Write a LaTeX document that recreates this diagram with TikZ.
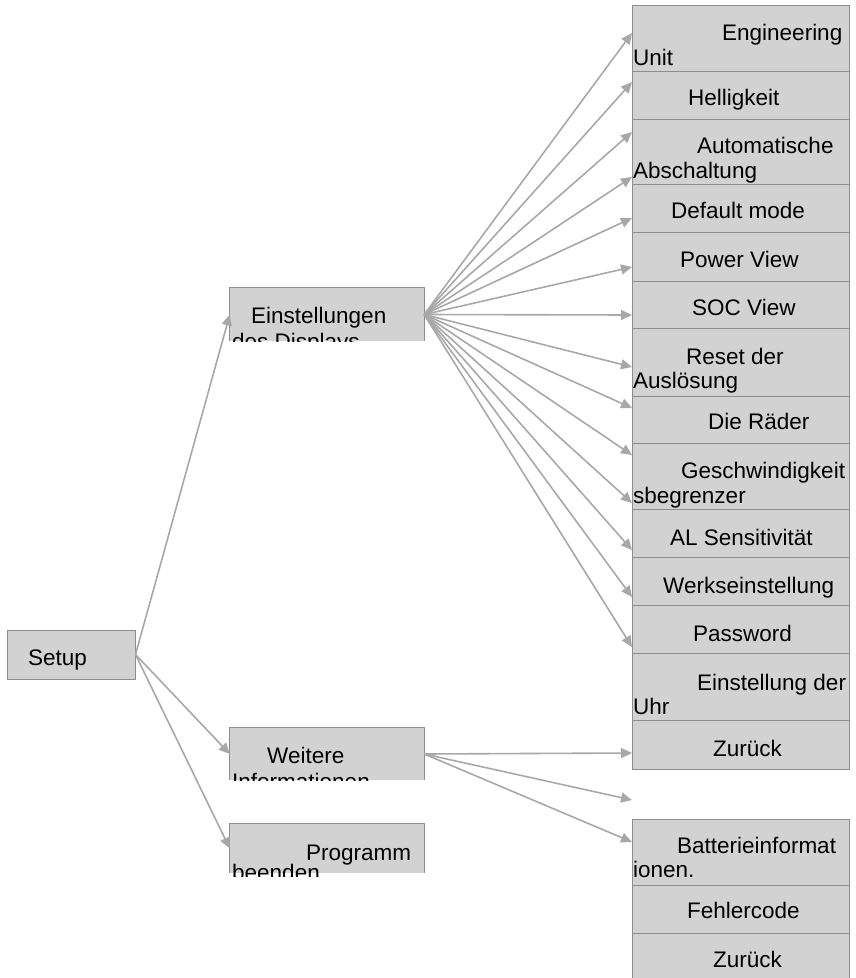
\documentclass[tikz,border=0pt]{standalone}
\usepackage{fontspec}
\setmainfont{Liberation Sans}
\usetikzlibrary{arrows.meta}
\definecolor{boxfill}{HTML}{D2D2D2}
\definecolor{boxline}{HTML}{8E8E8E}
\definecolor{arrowc}{HTML}{A8A8A8}
\begin{document}
\begin{tikzpicture}[x=1pt,y=-1pt,
  txt/.style={anchor=base west, inner sep=0pt, font=\fontsize{22.5}{26}\selectfont},
  cell/.style={draw=boxline, fill=boxfill, line width=1pt, inner sep=0pt, minimum width=217pt},
  leftbox/.style={fill=boxfill, draw=none, inner sep=0pt, minimum width=194pt},
  conn/.style={draw=arrowc, line width=1.6pt, -{Triangle[length=11pt,width=10pt]}}]
\useasboundingbox (0,0) rectangle (855,978);

% ---------- left column ----------
\node[cell, minimum width=128pt, minimum height=49pt] (setup) at (71,654.5) {};
\node[txt] (tsetup) at (28,665) {Setup};

\node[leftbox, minimum height=53pt] (ein) at (327,314.5) {};
\draw[boxline, line width=1pt] (ein.south west) -- (ein.north west) -- (ein.north east) -- (ein.south east);
\begin{scope}
  \clip (ein.south west) rectangle (ein.north east);
  \node[txt] (tein1) at (251,323) {Einstellungen};
  \node[txt] (tein2) at (232,349) {des Displays};
\end{scope}

\node[leftbox, minimum height=52pt] (wei) at (327,754) {};
\draw[boxline, line width=1pt] (wei.south west) -- (wei.north west) -- (wei.north east) -- (wei.south east);
\begin{scope}
  \clip (wei.south west) rectangle (wei.north east);
  \node[txt] (twei1) at (267,763) {Weitere};
  \node[txt] (twei2) at (232,789) {Informationen};
\end{scope}

\node[leftbox, minimum height=49pt] (prog) at (327,848.5) {};
\draw[boxline, line width=1pt] (prog.south west) -- (prog.north west) -- (prog.north east) -- (prog.south east);
\begin{scope}
  \clip (230,824) rectangle (424,876);
  \node[txt] (tprog1) at (306,860) {Programm};
  \node[txt] (tprog2) at (232,880) {beenden};
\end{scope}

% ---------- right column ----------
\node[cell, minimum height=66pt] (r1) at (740.5,38) {};
\node[txt] at (722,40) (t1a) {Engineering};
\node[txt] at (633,65) (t1b) {Unit};
\node[cell, minimum height=48pt] (r2) at (740.5,95) {};
\node[txt] at (688,105) (t2) {Helligkeit};
\node[cell, minimum height=65pt] (r3) at (740.5,151.5) {};
\node[txt] at (697,153) (t3a) {Automatische};
\node[txt] at (633,178) (t3b) {Abschaltung};
\node[cell, minimum height=48pt] (r4) at (740.5,208) {};
\node[txt] at (671,218) (t4) {Default mode};
\node[cell, minimum height=49pt] (r5) at (740.5,256.5) {};
\node[txt] at (680,267) (t5) {Power View};
\node[cell, minimum height=47pt] (r6) at (740.5,304.5) {};
\node[txt] at (692,315) (t6) {SOC View};
\node[cell, minimum height=68pt] (r7) at (740.5,362) {};
\node[txt] at (686,364) (t7a) {Reset der};
\node[txt] at (633,388) (t7b) {Auslösung};
\node[cell, minimum height=47pt] (r8) at (740.5,419.5) {};
\node[txt] at (708,429) (t8) {Die Räder};
\node[cell, minimum height=66pt] (r9) at (740.5,476) {};
\node[txt] at (681,478) (t9a) {Geschwindigkeit};
\node[txt] at (633,503) (t9b) {sbegrenzer};
\node[cell, minimum height=48pt] (r10) at (740.5,533) {};
\node[txt] at (670,545) (t10) {AL Sensitivität};
\node[cell, minimum height=48pt] (r11) at (740.5,581) {};
\node[txt] at (663,593) (t11) {Werkseinstellung};
\node[cell, minimum height=48pt] (r12) at (740.5,629) {};
\node[txt] at (693,641) (t12) {Password};
\node[cell, minimum height=67pt] (r13) at (740.5,686.5) {};
\node[txt] at (697,690) (t13a) {Einstellung der};
\node[txt] at (633,714) (t13b) {Uhr};
\node[cell, minimum height=49pt] (r14) at (740.5,744.5) {};
\node[txt] at (713,756) (t14) {Zurück};

\node[cell, minimum height=66pt] (b1) at (740.5,852) {};
\node[txt] at (677,853) (tb1a) {Batterieinformat};
\node[txt] at (633,877) (tb1b) {ionen.};
\node[cell, minimum height=48pt] (b2) at (740.5,909) {};
\node[txt] at (687,918) (tb2) {Fehlercode};
\node[cell, minimum height=48pt] (b3) at (740.5,957) {};
\node[txt] at (713,967) (tb3) {Zurück};

% ---------- arrow end points ----------
\foreach \i/\y in {1/33,2/82,3/132,4/177,5/218,6/267,7/315,8/367,9/408,10/455,11/503,12/550,13/597,14/647}
  \coordinate (e\i) at (632,\y);
\coordinate (w1) at (632,753);
\coordinate (w2) at (632,800);
\coordinate (w3) at (632,842);

% ---------- connectors ----------
\draw[conn] (setup.east) -- (ein.west);
\draw[conn] (setup.east) -- (wei.west);
\draw[conn] (setup.east) -- (prog.west);
\foreach \i in {1,...,14}
  \draw[conn] (ein.east) -- (e\i);
\foreach \i in {1,2,3}
  \draw[conn] (wei.east) -- (w\i);
\end{tikzpicture}
\end{document}
